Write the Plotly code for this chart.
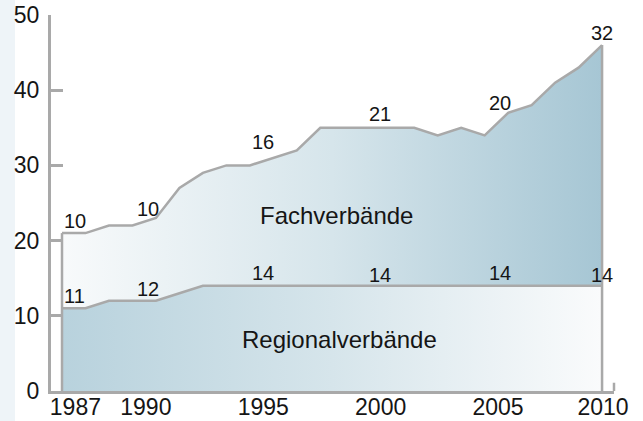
import plotly.graph_objects as go

# ---- data ----
years = list(range(1987, 2011))
regional = [11, 11, 12, 12, 12, 13, 14, 14, 14, 14, 14, 14, 14, 14, 14, 14, 14, 14, 14, 14, 14, 14, 14, 14]
fach = [10, 10, 10, 10, 11, 14, 15, 16, 16, 17, 18, 21, 21, 21, 21, 21, 20, 21, 20, 23, 24, 27, 29, 32]
label_years = [1987, 1990, 1995, 2000, 2005, 2010]
tick_years = [1987, 1990, 1995, 2000, 2005, 2010]
y_ticks = [0, 10, 20, 30, 40, 50]
series_names = ["Fachverbände", "Regionalverbände"]

total = [r + f for r, f in zip(regional, fach)]

FONT = "Liberation Sans, Arial, Helvetica, sans-serif"
GRAY = "#a9a9a9"
TXT = "#151515"

fig = go.Figure()

fig.add_trace(go.Scatter(
    x=years, y=regional, mode="lines", fill="tozeroy",
    line=dict(color=GRAY, width=2.5),
    fillgradient=dict(type="horizontal",
                      colorscale=[[0, "#b8d2dd"], [0.5, "#d6e5eb"], [1, "#fafbfc"]]),
    hoverinfo="skip", showlegend=False))

fig.add_trace(go.Scatter(
    x=years, y=total, mode="lines", fill="tonexty",
    line=dict(color=GRAY, width=2.5),
    fillgradient=dict(type="horizontal",
                      colorscale=[[0, "#f8fafb"], [0.5, "#d6e5eb"], [1, "#a6c6d4"]]),
    hoverinfo="skip", showlegend=False))

# vertical edges of the areas
fig.add_trace(go.Scatter(x=[years[0], years[0]], y=[0, total[0]], mode="lines",
                         line=dict(color=GRAY, width=2.5), hoverinfo="skip", showlegend=False))
fig.add_trace(go.Scatter(x=[years[-1], years[-1]], y=[0, total[-1]], mode="lines",
                         line=dict(color=GRAY, width=2.5), hoverinfo="skip", showlegend=False))

# value labels
fach_shift = {1987: 0, 1990: 5, 1995: 11, 2000: 2, 2005: 20, 2010: 0}
reg_shift = {1987: 0, 1990: 0, 1995: 1, 2000: -1, 2005: 1, 2010: -1}
xs = {1987: 0, 1990: 3, 1995: 0, 2000: 0, 2005: 2, 2010: 0}
for yr in label_years:
    i = years.index(yr)
    anchor = "center" if yr == years[-1] else "left"
    fig.add_annotation(x=yr, y=total[i], text=str(fach[i]), showarrow=False,
                       xanchor=anchor, yanchor="bottom", xshift=xs[yr], yshift=fach_shift[yr] - 1,
                       font=dict(family=FONT, size=20, color=TXT))
    fig.add_annotation(x=yr, y=regional[i], text=str(regional[i]), showarrow=False,
                       xanchor=anchor, yanchor="bottom", xshift=xs[yr], yshift=reg_shift[yr] - 1,
                       font=dict(family=FONT, size=20, color=TXT))

# area labels
fig.add_annotation(x=1998.67, y=23.4, text=series_names[0], showarrow=False,
                   font=dict(family=FONT, size=24, color=TXT))
fig.add_annotation(x=1998.8, y=6.8, text=series_names[1], showarrow=False,
                   font=dict(family=FONT, size=24, color=TXT))

# left light strip
fig.add_shape(type="rect", xref="paper", yref="paper",
              x0=-51 / 563, x1=(15 - 51) / 563, y0=-0.1, y1=1.1,
              fillcolor="#eef4f8", line=dict(width=0), layer="below")
# small end tick on x-axis
fig.add_shape(type="line", xref="paper", yref="y", x0=1, x1=1, y0=0, y1=1.1,
              line=dict(color=GRAY, width=2.5))

tickvals = [y + 0.57 for y in tick_years[:-1]] + [tick_years[-1] + 0.04]

fig.update_layout(
    width=643, height=421,
    margin=dict(l=51, r=29, t=15, b=30, autoexpand=False),
    paper_bgcolor="white", plot_bgcolor="white",
    font=dict(family=FONT, size=23, color=TXT),
    xaxis=dict(range=[1986.531, 2010.508], showgrid=False, zeroline=False,
               showline=True, linecolor=GRAY, linewidth=3, automargin=False,
               tickvals=tickvals, ticktext=[str(t) for t in tick_years],
               ticks="", ticklabelstandoff=-7,
               tickfont=dict(family=FONT, size=23, color=TXT)),
    yaxis=dict(range=[0, 50], showgrid=False, zeroline=False,
               showline=True, linecolor=GRAY, linewidth=3, automargin=False,
               tickvals=y_ticks, ticks="inside", ticklen=12, tickwidth=3, tickcolor=GRAY,
               ticklabelstandoff=4,
               tickfont=dict(family=FONT, size=23, color=TXT)),
)

fig.write_html("out.html", config={"displayModeBar": False},
               post_script="document.body.style.margin='0';document.body.style.padding='0';")
